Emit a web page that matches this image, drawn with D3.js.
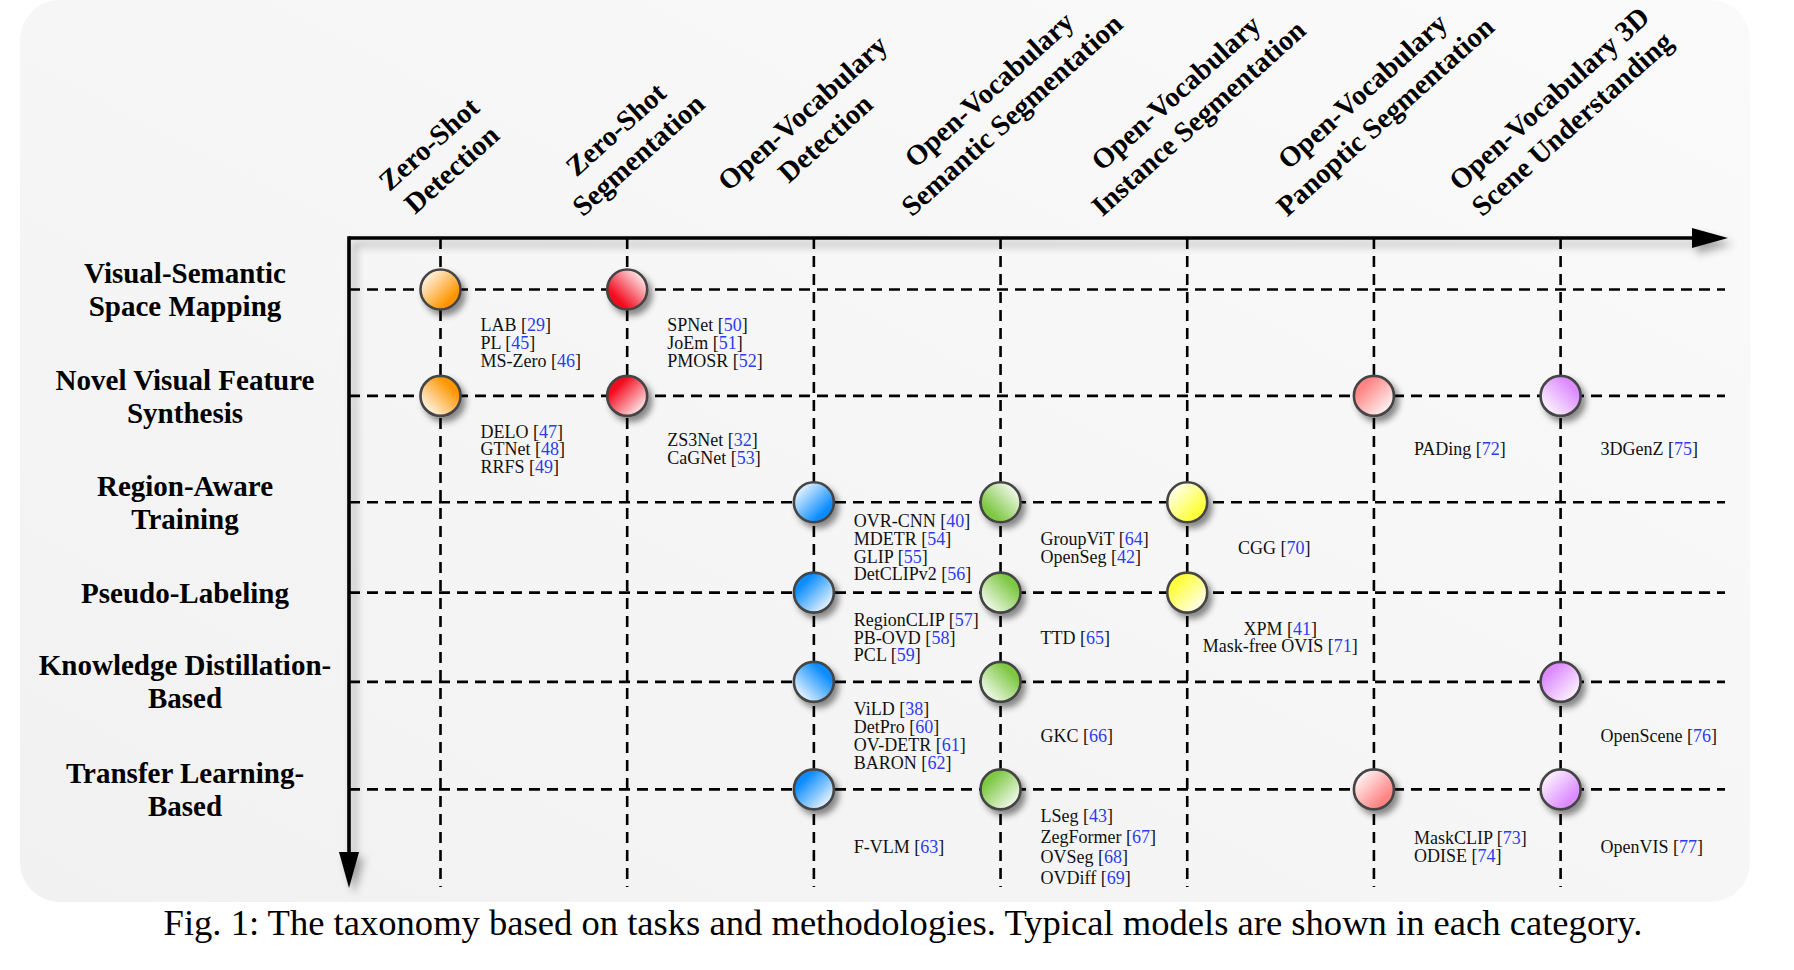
<!DOCTYPE html>
<html><head><meta charset="utf-8">
<script src="https://cdn.jsdelivr.net/npm/d3@7"></script>
<style>body{margin:0;background:#fff;} svg{display:block}</style>
</head><body>
<svg id="chart" width="1794" height="970"></svg>
<script>
// ---------------- data ----------------
const tasks = [
  ["Zero-Shot", "Detection"],
  ["Zero-Shot", "Segmentation"],
  ["Open-Vocabulary", "Detection"],
  ["Open-Vocabulary", "Semantic Segmentation"],
  ["Open-Vocabulary", "Instance Segmentation"],
  ["Open-Vocabulary", "Panoptic Segmentation"],
  ["Open-Vocabulary 3D", "Scene Understanding"]
];
const methods = [
  ["Visual-Semantic", "Space Mapping"],
  ["Novel Visual Feature", "Synthesis"],
  ["Region-Aware", "Training"],
  ["Pseudo-Labeling"],
  ["Knowledge Distillation-", "Based"],
  ["Transfer Learning-", "Based"]
];
// [task index, method index]
const nodes = [
  [0,0],[0,1],
  [1,0],[1,1],
  [2,2],[2,3],[2,4],[2,5],
  [3,2],[3,3],[3,4],[3,5],
  [4,2],[4,3],
  [5,1],[5,5],
  [6,1],[6,4],[6,5]
];
const models = [
  {task:0, method:0, items:[["LAB",29],["PL",45],["MS-Zero",46]]},
  {task:0, method:1, items:[["DELO",47],["GTNet",48],["RRFS",49]]},
  {task:1, method:0, items:[["SPNet",50],["JoEm",51],["PMOSR",52]]},
  {task:1, method:1, items:[["ZS3Net",32],["CaGNet",53]]},
  {task:2, method:2, items:[["OVR-CNN",40],["MDETR",54],["GLIP",55],["DetCLIPv2",56]]},
  {task:2, method:3, items:[["RegionCLIP",57],["PB-OVD",58],["PCL",59]]},
  {task:2, method:4, items:[["ViLD",38],["DetPro",60],["OV-DETR",61],["BARON",62]]},
  {task:2, method:5, items:[["F-VLM",63]]},
  {task:3, method:2, items:[["GroupViT",64],["OpenSeg",42]]},
  {task:3, method:3, items:[["TTD",65]]},
  {task:3, method:4, items:[["GKC",66]]},
  {task:3, method:5, items:[["LSeg",43],["ZegFormer",67],["OVSeg",68],["OVDiff",69]]},
  {task:4, method:2, items:[["CGG",70]]},
  {task:4, method:3, items:[["XPM",41],["Mask-free OVIS",71]]},
  {task:5, method:1, items:[["PADing",72]]},
  {task:5, method:5, items:[["MaskCLIP",73],["ODISE",74]]},
  {task:6, method:1, items:[["3DGenZ",75]]},
  {task:6, method:4, items:[["OpenScene",76]]},
  {task:6, method:5, items:[["OpenVIS",77]]}
];
const caption = "Fig. 1: The taxonomy based on tasks and methodologies. Typical models are shown in each category.";

// ---------------- style / layout ----------------
const taskColors = ["#ff9500","#f2081c","#0a8cff","#7ec843","#ffff3c","#ff8585","#dd8cff"];
const shineCorner = ["tl","bl","tr","br","tl","br","bl","br","tr","bl","bl","br","tl","br","br","tl","bl","br","tl"];
const rowWeights = [1, 1, 0.849, 0.839, 1.011, 1.075]; // relative band heights
const axisX = 349, axisY = 238;
const serif = "'Liberation Serif','Times New Roman',serif";

const svg = d3.select("#chart");
const defs = svg.append("defs");

const pg = defs.append("linearGradient").attr("id","panelGrad").attr("x1",0).attr("y1",1).attr("x2",1).attr("y2",0);
pg.append("stop").attr("offset",0).attr("stop-color","#f1f1f1");
pg.append("stop").attr("offset",0.5).attr("stop-color","#f6f6f6");
pg.append("stop").attr("offset",1).attr("stop-color","#fafafa");

const f1 = defs.append("filter").attr("id","ds").attr("x","-60%").attr("y","-60%").attr("width","220%").attr("height","220%");
f1.append("feDropShadow").attr("dx",4).attr("dy",5).attr("stdDeviation",3).attr("flood-color","#000").attr("flood-opacity",0.45);
const f2 = defs.append("filter").attr("id","axs").attr("x","-5%").attr("y","-5%").attr("width","110%").attr("height","110%");
f2.append("feDropShadow").attr("dx",5).attr("dy",6).attr("stdDeviation",4).attr("flood-color","#000").attr("flood-opacity",0.35);

svg.append("rect").attr("x",20).attr("y",0).attr("width",1730).attr("height",902)
  .attr("rx",40).attr("fill","url(#panelGrad)");

// scales
const x = d3.scalePoint().domain(d3.range(tasks.length)).range([440.5, 1560.6]);
const cum = [0]; rowWeights.forEach(w => cum.push(cum[cum.length-1] + w));
const yLin = d3.scaleLinear().domain([0, cum[methods.length-1]]).range([289.5, 789.4]);
const y = i => yLin(cum[i]);
const yBandMid = i => yLin((cum[i] + cum[i+1]) / 2);

// dashed grid
const grid = svg.append("g").attr("stroke","#000").attr("stroke-width",2.6).attr("stroke-dasharray","11,7");
grid.selectAll("line.v").data(tasks).join("line").attr("class","v")
  .attr("x1",(d,i)=>x(i)).attr("x2",(d,i)=>x(i)).attr("y1",axisY).attr("y2",887);
grid.selectAll("line.h").data(methods).join("line").attr("class","h")
  .attr("x1",axisX).attr("x2",1725).attr("y1",(d,i)=>y(i)).attr("y2",(d,i)=>y(i));

// axes with arrows
const ax = svg.append("g").attr("filter","url(#axs)");
ax.append("line").attr("x1",axisX).attr("y1",axisY).attr("x2",1700).attr("y2",axisY).attr("stroke","#000").attr("stroke-width",3.6);
ax.append("path").attr("d",`M1692,${axisY-10} L1728,${axisY} L1692,${axisY+10} Z`).attr("fill","#000");
ax.append("line").attr("x1",axisX).attr("y1",axisY-1.8).attr("x2",axisX).attr("y2",860).attr("stroke","#000").attr("stroke-width",3.6);
ax.append("path").attr("d",`M${axisX-10},852 L${axisX},888 L${axisX+10},852 Z`).attr("fill","#000");

// gradients for nodes
const cornerVec = {tl:[0,0,1,1], br:[1,1,0,0], tr:[1,0,0,1], bl:[0,1,1,0]};
nodes.forEach((n,i) => {
  const v = cornerVec[shineCorner[i]];
  const g = defs.append("linearGradient").attr("id","ng"+i)
    .attr("x1",v[0]).attr("y1",v[1]).attr("x2",v[2]).attr("y2",v[3]);
  g.append("stop").attr("offset",0.08).attr("stop-color","#ffffff");
  g.append("stop").attr("offset",0.75).attr("stop-color",taskColors[n[0]]);
  g.append("stop").attr("offset",1).attr("stop-color",taskColors[n[0]]);
});
svg.append("g").selectAll("circle").data(nodes).join("circle")
  .attr("cx",d=>x(d[0])).attr("cy",d=>y(d[1])).attr("r",20)
  .attr("fill",(d,i)=>`url(#ng${i})`).attr("stroke","#444").attr("stroke-width",2.6)
  .attr("filter","url(#ds)");

// model texts
const mg = svg.append("g").attr("font-family",serif).attr("font-size",18).attr("fill","#111");
models.forEach(m => {
  const centered = m.task === 4;
  const n = m.items.length;
  const bx = centered ? x(m.task) + (n > 1 ? 93 : 87) : x(m.task) + 40;
  const cy = yBandMid(m.method);
  const lh = (m.method === methods.length - 1 && n > 3) ? 20.5 : 17.8;
  const t = mg.append("text").attr("text-anchor", centered ? "middle" : "start");
  m.items.forEach((it, j) => {
    const ly = cy + (j - (n-1)/2) * lh;
    t.append("tspan").attr("x",bx).attr("y",ly).attr("dy","0.35em").text(it[0] + " [");
    t.append("tspan").attr("fill","#2a3cf0").text(it[1]);
    t.append("tspan").text("]");
  });
});

// row labels
const rl = svg.append("g").attr("font-family",serif).attr("font-weight","bold").attr("font-size",29).attr("fill","#000").attr("text-anchor","middle");
methods.forEach((lines,i) => {
  const t = rl.append("text");
  lines.forEach((l,j) => t.append("tspan").attr("x",185).attr("y", y(i) + (j - (lines.length-1)/2)*33).attr("dy","0.35em").text(l));
});

// column headers
const hg = svg.append("g").attr("font-family",serif).attr("font-weight","bold").attr("font-size",28.5).attr("fill","#000");
tasks.forEach((lines,i) => {
  const g = hg.append("g");
  const inner = g.append("g").attr("transform","rotate(-42)");
  const t = inner.append("text").attr("text-anchor","middle");
  lines.forEach((l,j) => t.append("tspan").attr("x",0).attr("y", j*34).text(l));
  const bb = g.node().getBoundingClientRect();
  g.attr("transform",`translate(${x(i) - (bb.left+bb.right)/2},${222 - bb.bottom})`);
});

// caption
svg.append("text").attr("x",903).attr("y",935).attr("text-anchor","middle")
  .attr("font-family",serif).attr("font-size",36.6).attr("fill","#000").text(caption);
</script>
</body></html>
